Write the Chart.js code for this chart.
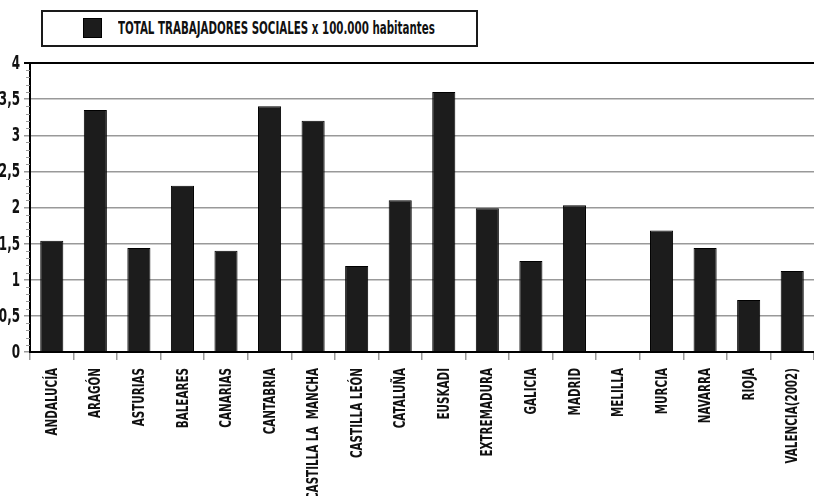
<!DOCTYPE html>
<html>
<head>
<meta charset="utf-8">
<script src="https://cdn.jsdelivr.net/npm/chart.js@4"></script>
<style>
  body { margin: 0; background: #fff; }
  #wrap { position: relative; width: 814px; height: 496px; }
  #legend {
    position: absolute; left: 41px; top: 10px; width: 433px; height: 33px;
    border: 2px solid #1a1a1a; background: #fff;
    font-family: "DejaVu Sans Condensed", "DejaVu Sans", sans-serif;
    font-weight: bold; font-size: 15px; color: #111;
  }
  #legend .sw {
    position: absolute; left: 40px; top: 6px; width: 17px; height: 18px;
    background: #1c1c1c; border: 1px solid #000;
  }
  #legend .txt {
    position: absolute; left: 75px; top: 5px; white-space: nowrap;
    font-size: 18px; line-height: 22px; transform-origin: 0 50%;
  }
</style>
</head>
<body>
<div id="wrap">
  <canvas id="chartTrabajadores" width="814" height="496"></canvas>
  <div id="legend"><span class="sw"></span><span class="txt" id="legendText"></span></div>
</div>
<script>
var regiones = ['ANDALUCÍA', 'ARAGÓN', 'ASTURIAS', 'BALEARES', 'CANARIAS', 'CANTABRIA',
  'CASTILLA LA  MANCHA', 'CASTILLA LEÓN', 'CATALUÑA', 'EUSKADI', 'EXTREMADURA', 'GALICIA',
  'MADRID', 'MELILLA', 'MURCIA', 'NAVARRA', 'RIOJA', 'VALENCIA(2002)'];
var trabajadores = [1.54, 3.35, 1.44, 2.30, 1.40, 3.40, 3.20, 1.19, 2.10, 3.60,
  1.99, 1.26, 2.03, 0, 1.68, 1.44, 0.72, 1.12];
var serieNombre = 'TOTAL TRABAJADORES SOCIALES x 100.000 habitantes';

var fuente = '"DejaVu Sans Condensed", "DejaVu Sans", sans-serif';

// leyenda: texto condensado para parecerse a la fuente original
var legendText = document.getElementById('legendText');
legendText.textContent = serieNombre;
legendText.style.transform = 'scaleX(' + (317 / legendText.offsetWidth) + ')';

// marcas menores del eje Y cada 0,1
var minorTicks = {
  id: 'minorTicks',
  afterDraw: function(chart) {
    var y = chart.scales.y;
    var ctx = chart.ctx;
    ctx.save();
    ctx.strokeStyle = '#999';
    ctx.lineWidth = 1;
    for (var i = 1; i < 40; i++) {
      if (i % 5 == 0) continue;
      var py = Math.round(y.getPixelForValue(i / 10)) + 0.5;
      ctx.beginPath();
      ctx.moveTo(y.right - 4, py);
      ctx.lineTo(y.right, py);
      ctx.stroke();
    }
    ctx.restore();
  }
};

// etiquetas de los ejes dibujadas estrechas (fillText con maxWidth)
var narrowLabels = {
  id: 'narrowLabels',
  afterDraw: function(chart) {
    var ctx = chart.ctx;
    var x = chart.scales.x, y = chart.scales.y;
    ctx.save();
    ctx.fillStyle = '#111';

    ctx.font = 'bold 16px ' + fuente;
    ctx.textAlign = 'right';
    ctx.textBaseline = 'middle';
    regiones.forEach(function(r, i) {
      var px = x.getPixelForTick(i);
      var w = ctx.measureText(r).width;
      ctx.save();
      ctx.translate(px + 1, x.top + 16);
      ctx.rotate(-Math.PI / 2);
      ctx.fillText(r, 0, 0, w * 0.72);
      ctx.restore();
    });

    ctx.font = 'bold 19px ' + fuente;
    y.ticks.forEach(function(t) {
      var txt = String(t.value).replace('.', ',');
      var w = ctx.measureText(txt).width;
      ctx.fillText(txt, 20, y.getPixelForValue(t.value) + 1, w * 0.7);
    });
    ctx.restore();
  }
};

var config = {
  type: 'bar',
  data: {
    labels: regiones,
    datasets: [{
      label: serieNombre,
      data: trabajadores,
      backgroundColor: '#1c1c1c',
      borderColor: '#000',
      borderWidth: 1,
      barPercentage: 0.53,
      categoryPercentage: 1
    }]
  },
  options: {
    responsive: false,
    animation: false,
    layout: { padding: { top: 63, right: -9, left: 0, bottom: 0 } },
    plugins: { legend: { display: false }, tooltip: { enabled: false } },
    scales: {
      x: {
        afterFit: function(scale) { scale.height = 144; },
        grid: {
          offset: true, drawOnChartArea: false, tickLength: 8,
          color: '#999', lineWidth: 1.5
        },
        border: { display: true, color: '#000', width: 2 },
        ticks: { display: false, autoSkip: false }
      },
      y: {
        min: 0, max: 4,
        afterFit: function(scale) { scale.width = 30; },
        grid: {
          color: function(c) { return c.tick && c.tick.value == 4 ? '#000' : '#999'; },
          lineWidth: function(c) { return c.tick && c.tick.value == 4 ? 2 : 1.5; },
          tickLength: 6
        },
        border: { display: true, color: '#000', width: 2 },
        ticks: { stepSize: 0.5, display: false }
      }
    }
  },
  plugins: [minorTicks, narrowLabels]
};

window.chartTrabajadores = new Chart(document.getElementById('chartTrabajadores').getContext('2d'), config);
</script>
</body>
</html>
